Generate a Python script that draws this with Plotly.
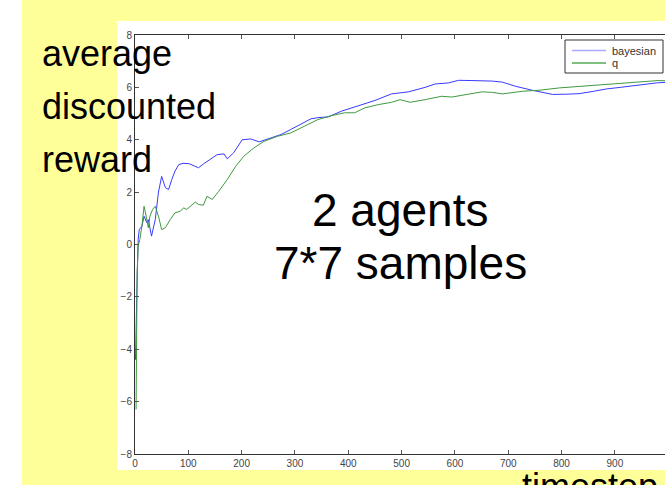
import plotly.graph_objects as go

# ---- data ----
x_bayes = [1, 2, 4, 6, 8, 13, 17, 22, 25, 31, 38, 44, 50, 57, 63, 69, 75, 82, 90, 101, 110, 119,
           130, 141, 154, 167, 173, 185, 201, 217, 233, 255, 274, 292, 311, 330, 345, 362, 387, 418,
           450, 481, 513, 544, 563, 588, 607, 632, 651, 670, 689, 714, 745, 783, 810, 833, 860, 884,
           910, 934, 960, 978, 1000]
y_bayes = [-4.4, -3.0, -1.3, 0.2, 0.57, 0.7, 1.08, 0.84, 0.95, 0.32, 0.95, 2.0, 2.6, 2.17, 2.1, 2.48,
           2.8, 3.05, 3.1, 3.09, 3.0, 2.93, 3.1, 3.24, 3.43, 3.46, 3.27, 3.5, 4.0, 4.03, 3.92, 4.07,
           4.2, 4.39, 4.58, 4.8, 4.85, 4.87, 5.09, 5.28, 5.5, 5.75, 5.83, 6.0, 6.13, 6.17, 6.27, 6.26,
           6.26, 6.24, 6.2, 6.04, 5.89, 5.73, 5.74, 5.76, 5.85, 5.94, 6.0, 6.07, 6.13, 6.17, 6.2]

x_q = [2, 3, 4, 6, 9, 13, 17, 21, 25, 28, 33, 38, 44, 50, 57, 66, 75, 85, 91, 97, 104, 113, 119,
       128, 135, 145, 157, 173, 189, 204, 223, 242, 267, 292, 311, 318, 343, 368, 393, 412, 431,
       456, 481, 497, 516, 544, 575, 594, 619, 651, 670, 689, 726, 758, 796, 833, 884, 934, 981, 1000]
y_q = [-6.3, -3.5, -1.08, -0.06, 0.19, 0.7, 1.46, 1.08, 0.64, 1.08, 1.34, 1.46, 1.08, 0.57, 0.64,
       0.95, 1.21, 1.27, 1.4, 1.34, 1.46, 1.62, 1.53, 1.5, 1.84, 1.72, 2.03, 2.48, 2.99, 3.37, 3.69,
       3.94, 4.13, 4.26, 4.45, 4.52, 4.77, 4.92, 5.03, 5.03, 5.22, 5.34, 5.43, 5.53, 5.43, 5.53,
       5.66, 5.63, 5.73, 5.83, 5.81, 5.75, 5.85, 5.89, 5.98, 6.04, 6.13, 6.2, 6.26, 6.25]

series_names = ["bayesian", "q"]
series_colors = ["#3a3aff", "#3f9a3f"]
legend_colors = ["#a8aaff", "#55aa55"]
x_ticks = [0, 100, 200, 300, 400, 500, 600, 700, 800, 900, 1000]
y_ticks = [-8, -6, -4, -2, 0, 2, 4, 6, 8]

W, H = 665, 485
ML, MR, MT, MB = 135, 0, 35, 31
PW, PH = W - ML - MR, H - MT - MB


def px_x(p):
    return (p - ML) / PW


def px_y(p):
    return (H - MB - p) / PH


FONT = "Liberation Sans, Arial, Helvetica, sans-serif"

fig = go.Figure()
fig.add_trace(go.Scatter(x=x_bayes, y=y_bayes, mode="lines", name=series_names[0],
                         line=dict(color=series_colors[0], width=1), showlegend=False))
fig.add_trace(go.Scatter(x=x_q, y=y_q, mode="lines", name=series_names[1],
                         line=dict(color=series_colors[1], width=1), showlegend=False))

shapes = [
    # white strip on the far left
    dict(type="rect", xref="paper", yref="paper", x0=px_x(-5), x1=px_x(22), y0=px_y(H + 5), y1=px_y(-5),
         fillcolor="white", line=dict(width=0), layer="below"),
    # white figure panel
    dict(type="rect", xref="paper", yref="paper", x0=px_x(117), x1=px_x(W + 5), y0=px_y(470), y1=px_y(21),
         fillcolor="white", line=dict(width=0), layer="below"),
    # legend box
    dict(type="rect", xref="paper", yref="paper", x0=px_x(565), x1=px_x(663), y0=px_y(73), y1=px_y(40),
         fillcolor="white", line=dict(color="#333", width=1), layer="above"),
]

annotations = []

legend_rows = [50.5, 63]
for name, col, yy in zip(series_names, legend_colors, legend_rows):
    shapes.append(dict(type="line", xref="paper", yref="paper", x0=px_x(572), x1=px_x(606),
                       y0=px_y(yy), y1=px_y(yy), line=dict(color=col, width=1.3), layer="above"))
    annotations.append(dict(text=name, xref="paper", yref="paper", x=px_x(610), y=px_y(yy),
                            xanchor="left", yanchor="middle", showarrow=False,
                            font=dict(family=FONT, size=11, color="#333")))


def txt(s, xp, base, size, xanchor="left"):
    annotations.append(dict(text=s, xref="paper", yref="paper", x=px_x(xp), y=px_y(base - 0.32 * size),
                            xanchor=xanchor, yanchor="middle", showarrow=False,
                            font=dict(family=FONT, size=size, color="black")))


txt("average", 40, 65, 36)
txt("discounted", 40, 118, 36)
txt("reward", 40, 171, 36)
txt("2 agents", 400, 225, 46, "center")
txt("7*7 samples", 400, 278, 46, "center")
txt("timestep", 520, 498, 36)

axis_common = dict(showgrid=False, zeroline=False, showline=True, linecolor="#333", linewidth=1,
                   ticks="inside", ticklen=4, tickcolor="#555",
                   tickfont=dict(family=FONT, size=10, color="#444"))

fig.update_layout(
    width=W, height=H,
    margin=dict(l=ML, r=MR, t=MT, b=MB, pad=0),
    paper_bgcolor="#FFFF99",
    plot_bgcolor="white",
    xaxis=dict(range=[0, 994], tickvals=x_ticks, mirror="ticks", **axis_common),
    yaxis=dict(range=[-8, 8], tickvals=y_ticks, **axis_common),
    showlegend=False,
    shapes=shapes,
    annotations=annotations,
)

fig.write_html("out.html", config={"displayModeBar": False},
               post_script="document.body.style.margin='0';document.body.style.overflow='hidden';")
